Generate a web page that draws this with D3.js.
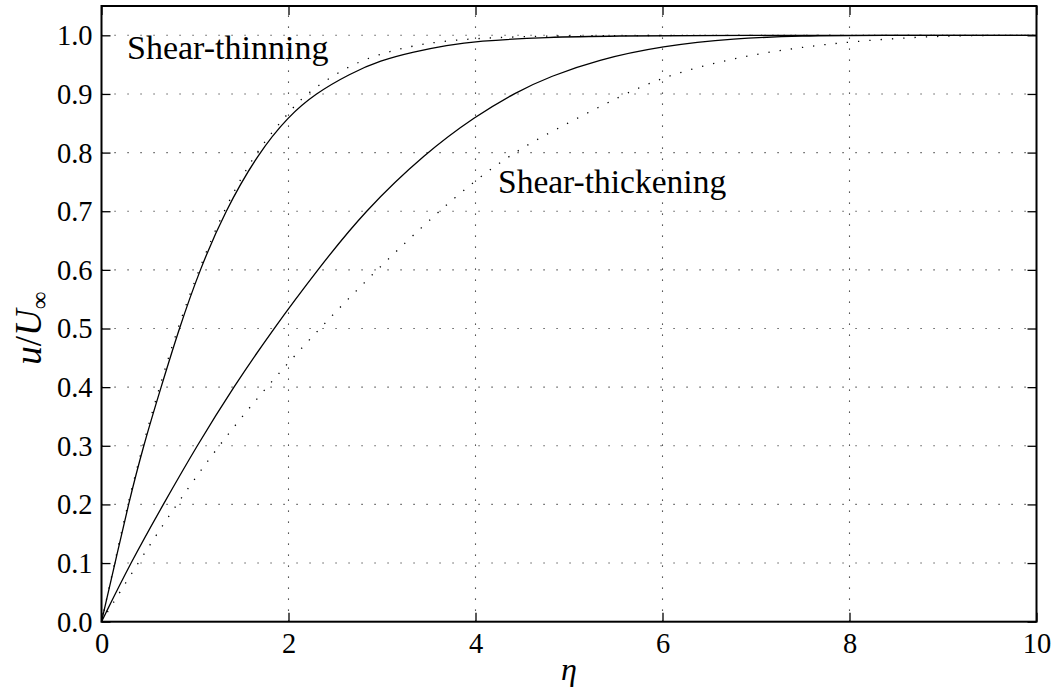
<!DOCTYPE html>
<html>
<head>
<meta charset="utf-8">
<script src="https://cdn.jsdelivr.net/npm/d3@7"></script>
<style>
  html, body { margin: 0; padding: 0; background: #fff; }
  svg { display: block; }
  text { font-family: "Liberation Serif", "Times New Roman", serif; fill: #000; }
</style>
</head>
<body>
<svg id="chart" width="1058" height="689"></svg>
<script>
// Velocity profiles u/U∞ against the similarity variable η
const thinSolidEta  = [0, 0.145, 0.287, 0.448, 0.637, 0.83, 1.05, 1.32, 1.68, 2.0, 2.28, 2.66, 2.98, 3.34, 3.70, 4.0, 4.77, 5.5, 6.5, 10];
const thinSolidU    = [0, 0.10, 0.20, 0.30, 0.40, 0.50, 0.60, 0.70, 0.80, 0.862, 0.90, 0.935, 0.957, 0.972, 0.983, 0.990, 0.997, 0.999, 1.0, 1.0];

const thinDotEta    = [0, 0.14, 0.28, 0.44, 0.619, 0.812, 1.04, 1.30, 1.64, 2.0, 2.18, 2.65, 3.07, 3.48, 3.91, 4.5, 5.2, 10];
const thinDotU      = [0, 0.10, 0.20, 0.30, 0.40, 0.50, 0.60, 0.70, 0.80, 0.868, 0.90, 0.950, 0.973, 0.987, 0.994, 0.998, 1.0, 1.0];

const thickSolidEta = [0, 0.31, 0.66, 1.02, 1.41, 1.84, 2.31, 2.81, 3.47, 4.0, 4.43, 4.80, 5.3, 6.0, 6.765, 7.5, 8.2, 10];
const thickSolidU   = [0, 0.10, 0.20, 0.30, 0.40, 0.50, 0.60, 0.70, 0.80, 0.862, 0.903, 0.930, 0.958, 0.982, 0.995, 0.999, 1.0, 1.0];

const thickDotEta   = [0, 0.39, 0.80, 1.25, 1.76, 2.33, 2.94, 3.606, 4.0, 4.409, 4.80, 5.59, 6.0, 6.5, 7.0, 7.5, 8.0, 8.69, 9.3, 10];
const thickDotU     = [0, 0.10, 0.20, 0.30, 0.40, 0.50, 0.60, 0.70, 0.753, 0.80, 0.835, 0.90, 0.928, 0.951, 0.968, 0.980, 0.989, 0.997, 1.0, 1.0];

const xTicks = [0, 2, 4, 6, 8, 10];
const yTicks = [0.0, 0.1, 0.2, 0.3, 0.4, 0.5, 0.6, 0.7, 0.8, 0.9, 1.0];

const svg = d3.select("#chart");
const plotLeft = 101.5, plotRight = 1036.5, plotTop = 6, plotBottom = 621.7;

const x = d3.scaleLinear().domain([0, 10]).range([plotLeft, plotRight]);
const y = d3.scaleLinear().domain([0, 1.05]).range([plotBottom, plotTop]);

// dotted grid
const grid = svg.append("g");
grid.selectAll("line.gx").data(xTicks.filter(d => d > 0 && d < 10)).enter().append("line")
  .attr("x1", d => x(d)).attr("x2", d => x(d))
  .attr("y1", plotBottom).attr("y2", plotTop)
  .attr("stroke", "#222").attr("stroke-width", 1.1)
  .attr("stroke-dasharray", "1.1,9.9");
grid.selectAll("line.gy").data(yTicks.filter(d => d > 0)).enter().append("line")
  .attr("x1", plotLeft).attr("x2", plotRight)
  .attr("y1", d => y(d)).attr("y2", d => y(d))
  .attr("stroke", "#222").attr("stroke-width", 1.1)
  .attr("stroke-dasharray", "1.1,11.9");

// curves
const line = d3.line().x(d => x(d[0])).y(d => y(d[1])).curve(d3.curveBasis);
const zip = (a, b) => a.map((v, i) => [v, b[i]]);
const series = [
  { data: zip(thinSolidEta, thinSolidU), dash: null },
  { data: zip(thickSolidEta, thickSolidU), dash: null },
  { data: zip(thinDotEta, thinDotU), dash: "1.3,10" },
  { data: zip(thickDotEta, thickDotU), dash: "1.3,10" }
];
const plot = svg.append("g");
plot.selectAll("path").data(series).enter().append("path")
  .attr("d", d => line(d.data))
  .attr("fill", "none")
  .attr("stroke", "#000")
  .attr("stroke-width", 1.3)
  .attr("stroke-dasharray", d => d.dash);

// axes box with inward ticks on all sides
const tickLen = 9;
const axisBottom = d3.axisBottom(x).tickValues(xTicks).tickSize(-tickLen).tickPadding(12).tickFormat(d3.format("d"));
const axisTop = d3.axisTop(x).tickValues(xTicks).tickSize(-tickLen).tickFormat("");
const axisLeft = d3.axisLeft(y).tickValues(yTicks).tickSize(-tickLen).tickPadding(9).tickFormat(d3.format(".1f"));
const axisRight = d3.axisRight(y).tickValues(yTicks).tickSize(-tickLen).tickFormat("");

function styleAxis(g) {
  g.select(".domain").remove();
  g.selectAll(".tick line").attr("stroke", "#000").attr("stroke-width", 1.3);
  g.selectAll(".tick text").style("font-family", "'Liberation Serif', serif").style("font-size", "28.5px").attr("fill", "#000");
}
svg.append("g").attr("transform", `translate(0,${plotBottom})`).call(axisBottom).call(styleAxis)
  .selectAll(".tick text").attr("dy", "0.68em");
svg.append("g").attr("transform", `translate(0,${plotTop})`).call(axisTop).call(styleAxis);
svg.append("g").attr("transform", `translate(${plotLeft},0)`).call(axisLeft).call(styleAxis)
  .selectAll(".tick text").attr("dy", "0.33em");
svg.append("g").attr("transform", `translate(${plotRight},0)`).call(axisRight).call(styleAxis);

svg.append("rect")
  .attr("x", plotLeft).attr("y", plotTop)
  .attr("width", plotRight - plotLeft).attr("height", plotBottom - plotTop)
  .attr("fill", "none").attr("stroke", "#000").attr("stroke-width", 2);

// annotations
svg.append("text").attr("x", 127).attr("y", 59).style("font-size", "34px").text("Shear-thinning");
svg.append("text").attr("x", 498).attr("y", 193).style("font-size", "33.5px").text("Shear-thickening");

// axis labels
svg.append("text").attr("x", (plotLeft + plotRight) / 2).attr("y", 680)
  .attr("text-anchor", "middle").style("font-size", "32px").style("font-style", "italic").text("η");

const yl = svg.append("text")
  .attr("transform", `translate(41,328) rotate(-90)`)
  .attr("text-anchor", "middle").style("font-size", "37px");
yl.append("tspan").style("font-style", "italic").text("u");
yl.append("tspan").text("/");
yl.append("tspan").style("font-style", "italic").text("U");
yl.append("tspan").attr("dy", 7).style("font-size", "25px").text("∞");
</script>
</body>
</html>
